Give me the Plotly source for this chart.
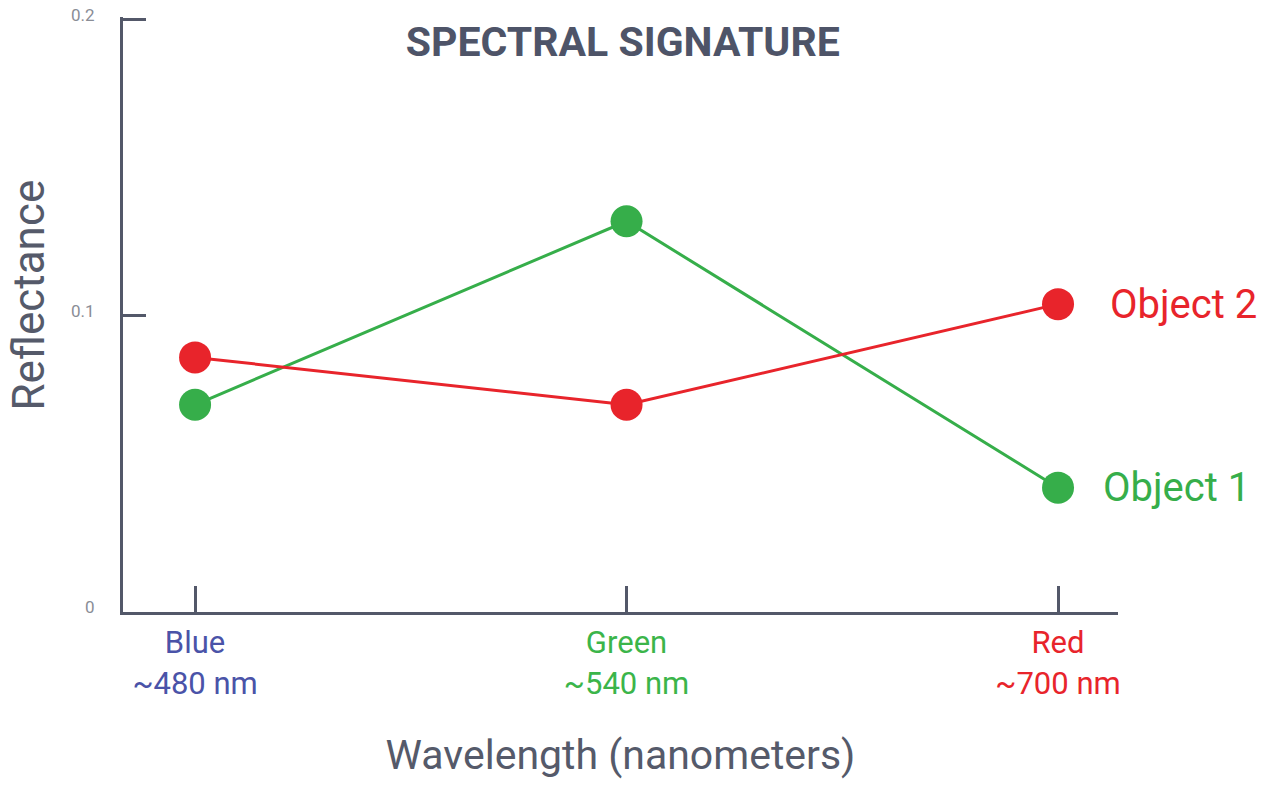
import plotly.graph_objects as go

bands = ["Blue", "Green", "Red"]
wavelengths = ["~480 nm", "~540 nm", "~700 nm"]
band_colors = ["#4a53a8", "#3bb54a", "#e8242b"]
object1 = [0.070, 0.132, 0.042]
object2 = [0.086, 0.070, 0.104]
y_ticks = [0, 0.1, 0.2]
y_ticktext = ["0", "0.1", "0.2"]

AXIS = "#535869"
RED = "#e8242b"
GREEN = "#36ae4a"
FONT = "Roboto"

# per-band coloured tick labels
ticktext = [
    f"<span style='color:{c}'>{b}<br>{w}</span>"
    for b, w, c in zip(bands, wavelengths, band_colors)
]

fig = go.Figure()
fig.add_trace(go.Scatter(
    x=bands, y=object1, mode="lines+markers", name="Object 1",
    line=dict(color=GREEN, width=3),
    marker=dict(color=GREEN, size=32),
))
fig.add_trace(go.Scatter(
    x=bands, y=object2, mode="lines+markers", name="Object 2",
    line=dict(color=RED, width=3),
    marker=dict(color=RED, size=32),
))

# series labels next to the last point
fig.add_annotation(x=bands[-1], y=object2[-1], text="Object 2", showarrow=False,
                   xanchor="left", xshift=50, font=dict(color=RED, size=40, family=FONT))
fig.add_annotation(x=bands[-1], y=object1[-1], text="Object 1", showarrow=False,
                   xanchor="left", xshift=43, font=dict(color=GREEN, size=40, family=FONT))

# y title sits a little above the middle of the axis
fig.add_annotation(text="Reflectance", textangle=-90, showarrow=False,
                   xref="paper", yref="paper", x=0, y=0.5,
                   xanchor="center", yanchor="middle", xshift=-95, yshift=19,
                   font=dict(size=44, family=FONT, color="#555a6a"))

fig.update_layout(
    width=1265, height=786,
    margin=dict(l=115, r=155, t=9, b=182),
    paper_bgcolor="white",
    plot_bgcolor="white",
    showlegend=False,
    title=dict(
        text="<b>SPECTRAL SIGNATURE</b>",
        x=0.486, xref="container", xanchor="center",
        y=1 - 34 / 786, yref="container", yanchor="middle",
        font=dict(family=FONT, size=41, color="#4e5468"),
    ),
    font=dict(family=FONT, color=AXIS),
)
fig.update_xaxes(
    type="category",
    range=[-0.167, 2.139],
    tickvals=bands,
    ticktext=ticktext,
    ticks="inside", ticklen=26, tickwidth=3, tickcolor=AXIS,
    tickfont=dict(size=31, family=FONT),
    ticklabelstandoff=1,
    showline=True, linewidth=3, linecolor=AXIS,
    showgrid=False, zeroline=False,
    automargin=False,
    title=dict(text="Wavelength (nanometers)", standoff=40,
               font=dict(size=41, family=FONT, color="#555a6a")),
)
fig.update_yaxes(
    range=[0, 0.201],
    tickvals=y_ticks,
    ticktext=y_ticktext,
    ticks="inside", ticklen=23, tickwidth=3, tickcolor=AXIS,
    tickfont=dict(size=17, family=FONT, color="#8a8d96"),
    ticklabelstandoff=22,
    ticklabelshift=-5,
    ticklabeloverflow="allow",
    showline=True, linewidth=3, linecolor=AXIS,
    showgrid=False, zeroline=False,
    automargin=False,
)

fig.write_html("out.html")
